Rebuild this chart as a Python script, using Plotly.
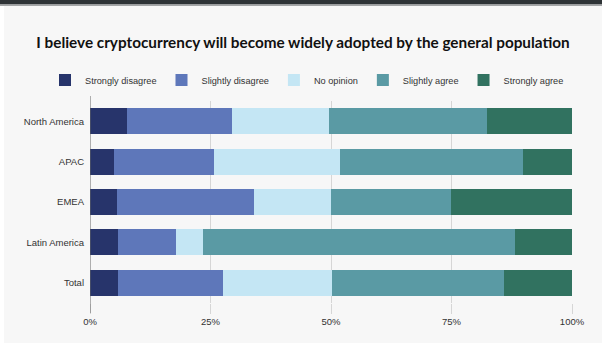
import plotly.graph_objects as go

regions = ["North America", "APAC", "EMEA", "Latin America", "Total"]
series_names = ["Strongly disagree", "Slightly disagree", "No opinion", "Slightly agree", "Strongly agree"]
strongly_disagree = [7.7, 5.0, 5.6, 5.8, 5.8]
slightly_disagree = [21.8, 20.7, 28.4, 12.0, 21.8]
no_opinion = [20.1, 26.2, 16.0, 5.7, 22.6]
slightly_agree = [32.8, 37.9, 24.9, 64.7, 35.7]
strongly_agree = [17.6, 10.2, 25.1, 11.8, 14.1]
tick_vals = [0, 25, 50, 75, 100]
tick_text = ["0%", "25%", "50%", "75%", "100%"]

colors = ["#27346b", "#5e77ba", "#c4e6f4", "#5a9aa4", "#317260"]
values = [strongly_disagree, slightly_disagree, no_opinion, slightly_agree, strongly_agree]

W, H = 602, 358
L, R, T, B = 90, 30, 101, 55
pw, ph = W - L - R, H - T - B

def px_x(x):
    return (x - L) / pw

def px_y(y):
    return (H - B - y) / ph

fig = go.Figure()
for name, vals, col in zip(series_names, values, colors):
    fig.add_trace(go.Bar(
        y=regions, x=vals, name=name, orientation="h",
        marker=dict(color=col, line=dict(width=0)),
        hoverinfo="x+y+name",
    ))

shapes = [
    # top dark band
    dict(type="rect", xref="paper", yref="paper", x0=px_x(0), x1=px_x(W), y0=px_y(4.5), y1=px_y(0),
         fillcolor="#2e3336", line=dict(width=0), layer="above"),
    dict(type="rect", xref="paper", yref="paper", x0=px_x(0), x1=px_x(W), y0=px_y(6), y1=px_y(4.5),
         fillcolor="#a4a6a7", line=dict(width=0), layer="above"),
    # left white strip
    dict(type="rect", xref="paper", yref="paper", x0=px_x(0), x1=px_x(4), y0=px_y(H), y1=px_y(6),
         fillcolor="#ffffff", line=dict(width=0), layer="above"),
    # bottom white strip
    dict(type="rect", xref="paper", yref="paper", x0=px_x(0), x1=px_x(W), y0=px_y(H), y1=px_y(343),
         fillcolor="#ffffff", line=dict(width=0), layer="above"),
    # dark zero axis line
    dict(type="line", xref="x", yref="paper", x0=0, x1=0, y0=px_y(313), y1=px_y(96),
         line=dict(color="#666666", width=1), layer="above"),
]

fig.update_layout(
    width=W, height=H,
    margin=dict(l=L, r=R, t=T, b=B, autoexpand=False),
    paper_bgcolor="#f7f7f7",
    plot_bgcolor="#f7f7f7",
    barmode="stack",
    bargap=0.355,
    title=dict(
        text="<b>I believe cryptocurrency will become widely adopted by the general population</b>",
        font=dict(family="Lato", size=15.3, color="#111111"),
        x=303 / W, xanchor="center", xref="container",
        y=1 - 43 / H, yanchor="middle", yref="container",
    ),
    legend=dict(
        orientation="h", x=px_x(45), xanchor="left", xref="paper",
        y=px_y(80), yanchor="middle", yref="paper",
        font=dict(family="Liberation Sans, Arial", size=9.2, color="#333333"),
        bgcolor="rgba(0,0,0,0)", traceorder="normal",
        itemwidth=30,
    ),
    xaxis=dict(
        range=[0, 100], tickvals=tick_vals, ticktext=tick_text,
        showgrid=True, gridcolor="#d6d6d6", gridwidth=1,
        ticks="outside", ticklen=10, tickcolor="#d6d6d6", tickwidth=1,
        zeroline=False, showline=False,
        tickfont=dict(family="Liberation Sans, Arial", size=9.5, color="#333333"),
        fixedrange=True,
    ),
    yaxis=dict(
        categoryorder="array", categoryarray=regions[::-1],
        showgrid=False, zeroline=False, showline=False,
        ticks="", ticklabelstandoff=5,
        tickfont=dict(family="Liberation Sans, Arial", size=9.5, color="#333333"),
        fixedrange=True,
    ),
    shapes=shapes,
    showlegend=True,
)

fig.write_html(
    "out.html",
    post_script="document.body.style.margin='0';document.body.style.overflow='hidden';",
    config={"displayModeBar": False},
)
